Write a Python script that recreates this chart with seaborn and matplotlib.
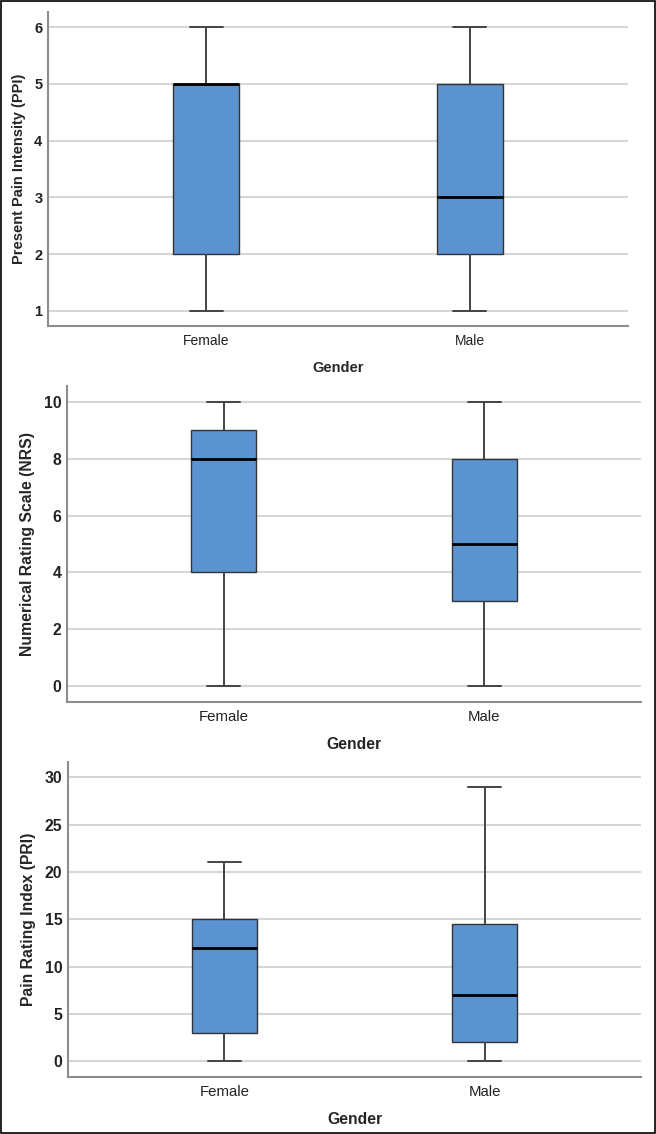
import pandas as pd
import seaborn as sns
import matplotlib.pyplot as plt
from matplotlib.patches import Rectangle

genders = ["Female", "Male"]

# five-number summaries: min, Q1, median, Q3, max
ppi_female = [1, 2, 5, 5, 6]
ppi_male = [1, 2, 3, 5, 6]
nrs_female = [0, 4, 8, 9, 10]
nrs_male = [0, 3, 5, 8, 10]
pri_female = [0, 3, 12, 15, 21]
pri_male = [0, 2, 7, 14.5, 29]

ppi_ticks = [1, 2, 3, 4, 5, 6]
nrs_ticks = [0, 2, 4, 6, 8, 10]
pri_ticks = [0, 5, 10, 15, 20, 25, 30]


def long_df(female, male):
    return pd.DataFrame({
        "Gender": [genders[0]] * len(female) + [genders[1]] * len(male),
        "value": female + male,
    })


def boxpanel(ax, df, ylabel, ticks, ylim, fs=10.5):
    sns.boxplot(
        x="Gender", y="value", data=df, order=genders, ax=ax,
        whis=(0, 100), width=0.25, color="#5b93d0", saturation=1,
        linecolor="#333333", linewidth=1.0,
        medianprops={"color": "black", "linewidth": 2.0},
        whiskerprops={"color": "#444444", "linewidth": 1.4},
        capprops={"color": "#444444", "linewidth": 1.4},
    )
    ax.set_xlim(-0.6, 1.6)
    ax.set_ylim(*ylim)
    ax.set_yticks(ticks)
    ax.yaxis.grid(True, color="#d6d6d6", linewidth=1.5)
    ax.set_axisbelow(True)
    for s in ["top", "right"]:
        ax.spines[s].set_visible(False)
    for s in ["left", "bottom"]:
        ax.spines[s].set_color("#8c8c8c")
        ax.spines[s].set_linewidth(1.5)
    ax.tick_params(length=0, labelcolor="#222222")
    ax.tick_params(axis="y", pad=4, labelsize=fs)
    ax.tick_params(axis="x", pad=6, labelsize=fs - 0.5)
    for t in ax.get_yticklabels():
        t.set_fontweight("bold")
    ax.set_ylabel(ylabel, fontsize=fs, fontweight="bold", labelpad=6)
    ax.set_xlabel("Gender", fontsize=fs, fontweight="bold", labelpad=9)


sns.set_style("white")
plt.rcParams["font.family"] = ["Liberation Sans", "DejaVu Sans"]

fig = plt.figure(figsize=(6.56, 11.34), dpi=100)
ax1 = fig.add_axes([48 / 656, 1 - 326 / 1134, 580 / 656, 314 / 1134])
ax2 = fig.add_axes([67 / 656, 1 - 702 / 1134, 574 / 656, 316 / 1134])
ax3 = fig.add_axes([68 / 656, 1 - 1077 / 1134, 573 / 656, 315 / 1134])

boxpanel(ax1, long_df(ppi_female, ppi_male), "Present Pain Intensity (PPI)",
         ppi_ticks, (0.73, 6.27), fs=10.5)
boxpanel(ax2, long_df(nrs_female, nrs_male), "Numerical Rating Scale (NRS)",
         nrs_ticks, (-0.55, 10.55), fs=11.3)
boxpanel(ax3, long_df(pri_female, pri_male), "Pain Rating Index (PRI)",
         pri_ticks, (-1.65, 31.6), fs=11.3)

fig.patches.append(Rectangle((0.001, 0.001), 0.998, 0.998, transform=fig.transFigure,
                             fill=False, edgecolor="black", linewidth=1.2))

fig.savefig("out.png", dpi=100)
